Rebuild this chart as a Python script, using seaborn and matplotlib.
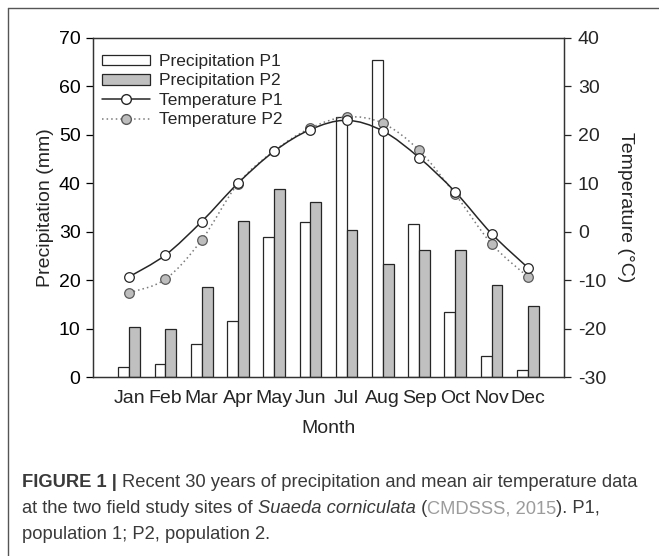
import numpy as np
import pandas as pd
import matplotlib
matplotlib.use("Agg")
import matplotlib.pyplot as plt
import seaborn as sns
from matplotlib.path import Path
from matplotlib.patches import PathPatch, Patch
from matplotlib.lines import Line2D

# ---------------- data ----------------
months = ["Jan", "Feb", "Mar", "Apr", "May", "Jun", "Jul", "Aug", "Sep", "Oct", "Nov", "Dec"]
precip_p1 = [2.1, 2.6, 6.9, 11.6, 28.9, 32.0, 53.6, 65.5, 31.5, 13.4, 4.3, 1.4]
precip_p2 = [10.4, 10.0, 18.5, 32.3, 38.9, 36.2, 30.4, 23.3, 26.2, 26.3, 19.0, 14.6]
temp_p1 = [-9.3, -4.8, 2.1, 10.0, 16.6, 21.1, 23.0, 20.8, 15.3, 8.2, -0.4, -7.4]
temp_p2 = [-12.6, -9.8, -1.7, 9.9, 16.7, 21.4, 23.7, 22.4, 16.8, 7.7, -2.5, -9.3]
series_labels = ["Precipitation P1", "Precipitation P2", "Temperature P1", "Temperature P2"]
left_ticks = [0, 10, 20, 30, 40, 50, 60, 70]
right_ticks = [-30, -20, -10, 0, 10, 20, 30, 40]

sns.set_style("white")
plt.rcParams["font.family"] = ["Liberation Sans", "DejaVu Sans"]
plt.rcParams["axes.unicode_minus"] = False

W, H = 659, 556
fig = plt.figure(figsize=(W / 100, H / 100), dpi=100)

def fx(px):
    return px / W

def fy(py):
    return 1 - py / H

ax = fig.add_axes([fx(93), fy(377), fx(564) - fx(93), fy(38) - fy(377)])

df = pd.DataFrame({
    "Month": months * 2,
    "Site": ["P1"] * 12 + ["P2"] * 12,
    "Precip": precip_p1 + precip_p2,
})
gray = "#c0c0c0"
edge = "#262626"
sns.barplot(data=df, x="Month", y="Precip", hue="Site", order=months,
            hue_order=["P1", "P2"], palette=["white", gray], width=0.6, gap=0,
            edgecolor=edge, linewidth=0.9, saturation=1, legend=False, ax=ax)

fs = 14
ax.set_xlim(-1, 12)
ax.set_ylim(0, 70)
ax.set_yticks(left_ticks)
ax.set_xlabel("Month", fontsize=fs, labelpad=9)
ax.set_ylabel("Precipitation (mm)", fontsize=fs, labelpad=3)
ax.tick_params(axis="y", direction="out", length=5, width=0.9, labelsize=fs, pad=4,
               left=True, colors="black")
ax.tick_params(axis="x", length=0, labelsize=fs, pad=9.5)
for s in ax.spines.values():
    s.set_color("#333333")
    s.set_linewidth(0.9)

ax2 = ax.twinx()
ax2.set_ylim(-30, 40)
ax2.set_yticks(right_ticks)
ax2.tick_params(axis="y", direction="out", length=5, width=0.9, labelsize=fs, pad=5,
                right=True)
ax2.set_ylabel("Temperature (\u00b0C)", fontsize=fs, rotation=270, labelpad=20)
for s in ax2.spines.values():
    s.set_color("#333333")
    s.set_linewidth(0.9)

xs = np.arange(len(months), dtype=float)

def smooth_path(x, y):
    pts = np.column_stack([x, y])
    n = len(pts)
    verts = [pts[0]]
    codes = [Path.MOVETO]
    for i in range(n - 1):
        p0 = pts[i - 1] if i > 0 else pts[i]
        p1 = pts[i]
        p2 = pts[i + 1]
        p3 = pts[i + 2] if i + 2 < n else pts[i + 1]
        c1 = p1 + (p2 - p0) / 6.0
        c2 = p2 - (p3 - p1) / 6.0
        verts += [c1, c2, p2]
        codes += [Path.CURVE4] * 3
    return Path(verts, codes)

ax2.add_patch(PathPatch(smooth_path(xs, temp_p2), facecolor="none", edgecolor="#7a7a7a",
                        linewidth=1.1, linestyle=(0, (1, 2)), zorder=3))
ax2.add_patch(PathPatch(smooth_path(xs, temp_p1), facecolor="none", edgecolor="#262626",
                        linewidth=1.1, zorder=3))

tdf = pd.DataFrame({"x": np.concatenate([xs, xs]),
                    "T": temp_p1 + temp_p2,
                    "Site": ["P1"] * 12 + ["P2"] * 12})
sns.scatterplot(data=tdf[tdf.Site == "P2"], x="x", y="T", ax=ax2, s=48, color="#bdbdbd",
                edgecolor="#5a5a5a", linewidth=0.9, zorder=4, legend=False)
sns.scatterplot(data=tdf[tdf.Site == "P1"], x="x", y="T", ax=ax2, s=48, color="white",
                edgecolor="#262626", linewidth=0.9, zorder=5, legend=False)
ax2.set_xlim(-1, 12)
ax2.set_xlabel("")

handles = [
    Patch(facecolor="white", edgecolor=edge, linewidth=0.9),
    Patch(facecolor=gray, edgecolor=edge, linewidth=0.9),
    Line2D([], [], color="#262626", lw=1.1, marker="o", ms=7, mfc="white", mec="#262626"),
    Line2D([], [], color="#7a7a7a", lw=1.1, ls=(0, (1, 2)), marker="o", ms=7,
           mfc="#bdbdbd", mec="#5a5a5a"),
]
leg = ax2.legend(handles, series_labels, loc="upper left", frameon=False, fontsize=12.5,
                 handlelength=2.75, handleheight=0.55, handletextpad=0.55, labelspacing=0.26,
                 borderaxespad=0, bbox_to_anchor=(fx(95), fy(47)),
                 bbox_transform=fig.transFigure)

# outer frame
fig.add_artist(Line2D([fx(8), 1], [fy(8), fy(8)], transform=fig.transFigure,
                      color="#555555", lw=1.0))
fig.add_artist(Line2D([fx(8), fx(8)], [fy(8), 0], transform=fig.transFigure,
                      color="#555555", lw=1.0))

# caption
cap_color = "#3a3a3a"
link_color = "#9c9c9c"
cap_size = 12.0
lines = [
    [("FIGURE 1 | ", "bold", "normal", cap_color),
     ("Recent 30 years of precipitation and mean air temperature data", "normal", "normal", cap_color)],
    [("at the two field study sites of ", "normal", "normal", cap_color),
     ("Suaeda corniculata", "normal", "italic", cap_color),
     (" (", "normal", "normal", cap_color),
     ("CMDSSS, 2015", "normal", "normal", link_color),
     ("). P1,", "normal", "normal", cap_color)],
    [("population 1; P2, population 2.", "normal", "normal", cap_color)],
]
renderer = fig.canvas.get_renderer()

def line_width(parts, size):
    tot = 0
    for txt, wgt, sty, col in parts:
        t = fig.text(0, 0, txt, fontsize=size, fontweight=wgt, fontstyle=sty)
        tot += t.get_window_extent(renderer).width
        t.remove()
    return tot

target = 641 - 22
w0 = line_width(lines[0], cap_size)
cap_size = cap_size * target / w0

baselines = [487, 513, 539]
for parts, by in zip(lines, baselines):
    xpix = 22
    for txt, wgt, sty, col in parts:
        t = fig.text(fx(xpix), fy(by), txt, fontsize=cap_size, fontweight=wgt,
                     fontstyle=sty, color=col, va="baseline", ha="left")
        xpix += t.get_window_extent(renderer).width

fig.savefig("out.png", dpi=100)
